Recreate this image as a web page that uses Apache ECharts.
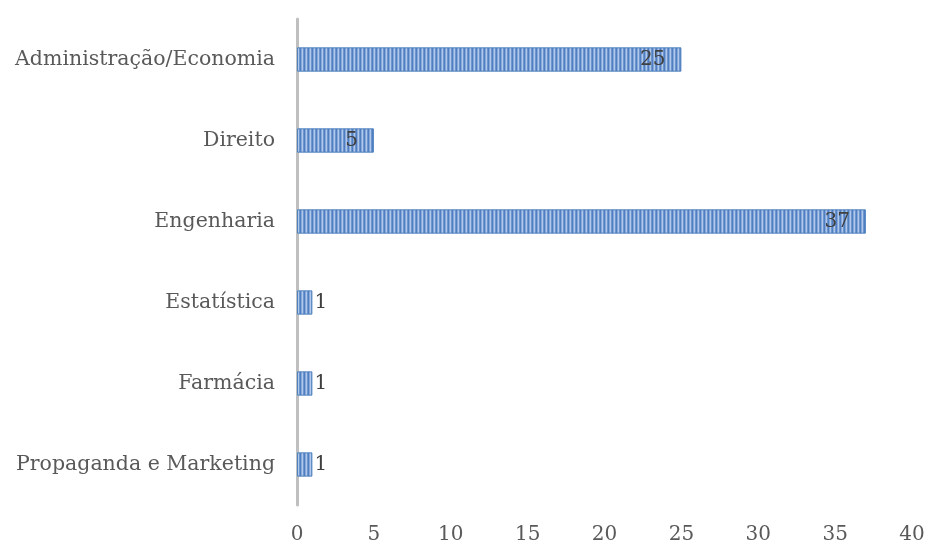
<!DOCTYPE html>
<html><head><meta charset="utf-8">
<script src="https://cdn.jsdelivr.net/npm/echarts@6/dist/echarts.min.js"></script>
<style>html,body{margin:0;padding:0;background:#fff}#c{width:928px;height:545px}</style>
</head><body><div id="c"></div>
<script>
const categories = ['Administração/Economia','Direito','Engenharia','Estatística','Farmácia','Propaganda e Marketing'];
const values = [25, 5, 37, 1, 1, 1];
const xTicks = [0, 5, 10, 15, 20, 25, 30, 35, 40];

const pc = document.createElement('canvas');
pc.width = 4; pc.height = 4;
const g = pc.getContext('2d');
g.fillStyle = '#4f7ec2'; g.fillRect(0,0,4,4);
g.fillStyle = '#86a9da'; g.fillRect(1,0,1,4);
g.fillStyle = '#b0c8ea'; g.fillRect(2,0,1,4);
g.fillStyle = '#6f95cf'; g.fillRect(3,0,1,4);

const font = '"DejaVu Serif", "Liberation Serif", serif';
const chart = echarts.init(document.getElementById('c'));
chart.setOption({
  animation: false,
  grid: {left: 297, right: 16, top: 19, bottom: 40, containLabel: false},
  xAxis: {
    type: 'value', min: 0, max: 40, interval: 5,
    axisLine: {show: false}, axisTick: {show: false}, splitLine: {show: false},
    axisLabel: {color: '#595959', fontFamily: font, fontSize: 20, margin: 20,
      formatter: v => xTicks.includes(v) ? String(v) : ''}
  },
  yAxis: {
    type: 'category', data: categories, inverse: true,
    axisLine: {show: true, lineStyle: {color: '#BFBFBF', width: 3}},
    axisTick: {show: false},
    axisLabel: {color: '#595959', fontFamily: font, fontSize: 20.5, margin: 22}
  },
  series: [{
    type: 'bar', barWidth: '30%',
    data: values.map(v => ({value: v, label: {position: v >= 5 ? 'insideRight' : 'right', distance: v >= 5 ? 16 : 2}})),
    itemStyle: {color: {image: pc, repeat: 'repeat'}, borderColor: '#4f81bd', borderWidth: 1},
    label: {show: true, color: '#404040', fontFamily: font, fontSize: 20}
  }]
});
</script></body></html>
